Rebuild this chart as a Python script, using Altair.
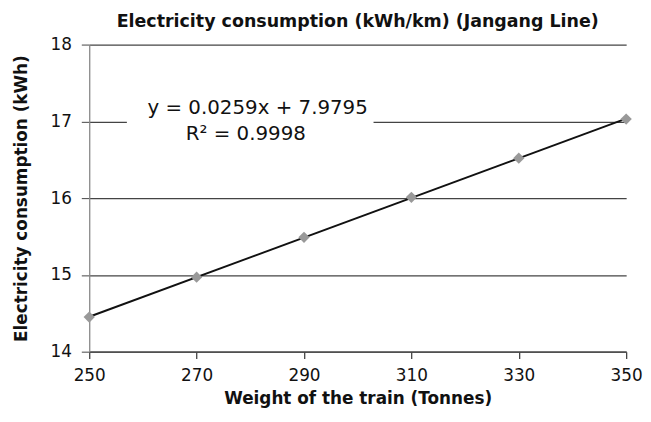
import altair as alt
import pandas as pd

weights = [250, 270, 290, 310, 330, 350]
consumption = [14.45, 14.97, 15.49, 16.01, 16.52, 17.03]
x_ticks = [250, 270, 290, 310, 330, 350]
y_ticks = [14, 15, 16, 17, 18]
eq_lines = ["y = 0.0259x + 7.9795", "R\u00b2 = 0.9998"]

df = pd.DataFrame({"w": weights, "c": consumption})
FONT = "DejaVu Sans"

x = alt.X("w:Q", scale=alt.Scale(domain=[250, 350], nice=False),
          axis=alt.Axis(values=x_ticks, title="Weight of the train (Tonnes)", grid=False,
                        tickSize=7, tickColor="#444", tickWidth=1.3, domainColor="#444",
                        domainWidth=1.3, labelFontSize=17, labelColor="#111",
                        labelFlush=False, titleFontSize=17, titleFontWeight="bold",
                        titleColor="#111", labelPadding=9, titlePadding=7,
                        labelFont=FONT, titleFont=FONT))
y = alt.Y("c:Q", scale=alt.Scale(domain=[14, 18], nice=False, zero=False),
          axis=alt.Axis(values=y_ticks, title="Electricity consumption (kWh)", grid=True,
                        gridColor="#444", gridWidth=1.3, tickSize=8, tickColor="#444",
                        domainColor="#888", domainWidth=1.3, labelFontSize=17,
                        labelColor="#111", labelFlush=False, titleFontSize=17,
                        titleFontWeight="bold", titleColor="#111", labelPadding=10,
                        titlePadding=20, labelFont=FONT, titleFont=FONT))

base = alt.Chart(df)

pts = base.mark_point(shape="diamond", filled=True, color="#999999", size=130,
                      opacity=1).encode(x=x, y=y)
trend = base.transform_regression("w", "c").mark_line(color="#111", strokeWidth=2).encode(x=x, y=y)

box = alt.Chart(pd.DataFrame({"a": [0]})).mark_rect(color="white").encode(
    x=alt.value(38), x2=alt.value(287), y=alt.value(52), y2=alt.value(102))

eq_df = pd.DataFrame({"t": eq_lines, "px": [170, 158], "py": [64, 90]})
eq = alt.Chart(eq_df).mark_text(font=FONT, fontSize=20, color="#111").encode(
    text="t:N", x=alt.X("px:Q", scale=None), y=alt.Y("py:Q", scale=None))

chart = alt.layer(trend, box, pts, eq).properties(
    width=542, height=310,
    title=alt.TitleParams("Electricity consumption (kWh/km) (Jangang Line)", font=FONT,
                          fontSize=17.6, fontWeight="bold", color="#111", offset=5),
    autosize=alt.AutoSizeParams(type="none"),
    padding={"left": 82, "top": 35, "right": 17, "bottom": 61},
).configure_view(stroke=None)

chart.save("out.html", embed_options={"renderer": "svg", "actions": False})
